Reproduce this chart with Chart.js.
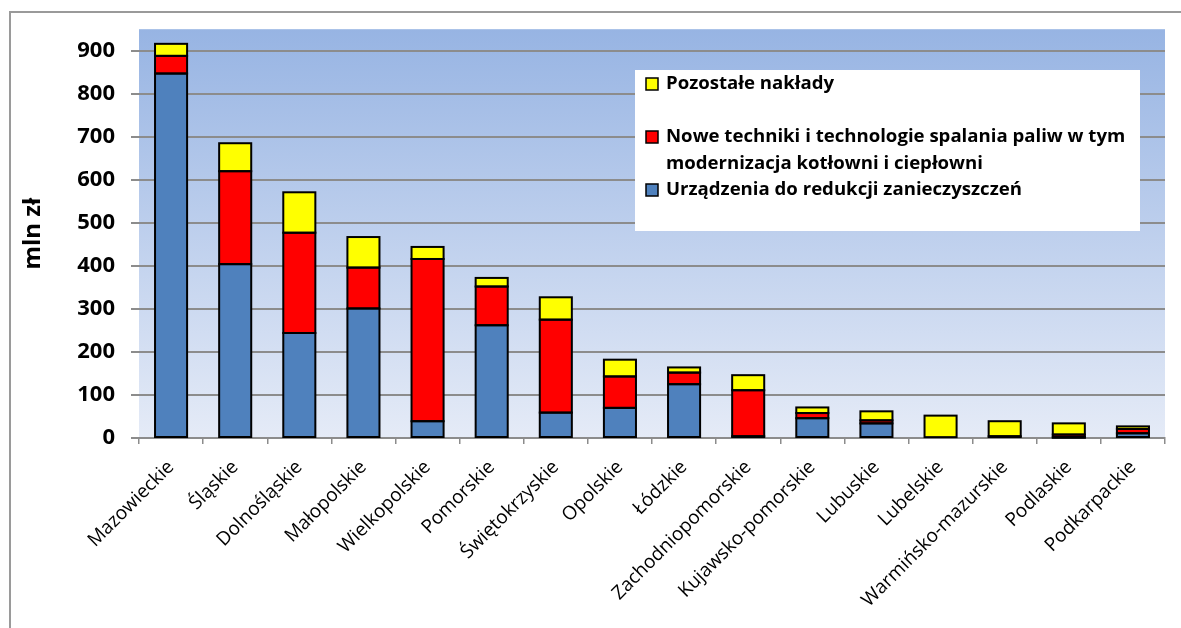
<!DOCTYPE html>
<html>
<head>
<meta charset="utf-8">
<script src="https://cdn.jsdelivr.net/npm/chart.js@4.4.1/dist/chart.umd.min.js"></script>
<style>
  html, body { margin: 0; padding: 0; background: #fff; }
  #wrap { position: relative; width: 1181px; height: 628px; }
</style>
</head>
<body>
<div id="wrap"><canvas id="chart" width="1181" height="628"></canvas></div>
<script>
const FONT = "'Open Sans', Calibri, sans-serif";

const regions = ["Mazowieckie", "Śląskie", "Dolnośląskie", "Małopolskie", "Wielkopolskie", "Pomorskie", "Świętokrzyskie", "Opolskie", "Łódzkie", "Zachodniopomorskie", "Kujawsko-pomorskie", "Lubuskie", "Lubelskie", "Warmińsko-mazurskie", "Podlaskie", "Podkarpackie"];
const urzadzenia = [847, 404, 244, 301, 39, 262, 59, 70, 125, 4, 46, 34, 2, 4, 1, 11];
const noweTechniki = [41, 216, 233, 95, 377, 90, 216, 73, 27, 107, 12, 7, 0, 0, 7, 10];
const pozostale = [28, 65, 94, 71, 28, 20, 52, 39, 12, 35, 13, 21, 50, 35, 26, 6];
const yTicks = [0, 100, 200, 300, 400, 500, 600, 700, 800, 900];
const yTitle = "mln zł";

const C = { blue: "#4f81bd", red: "#ff0000", yellow: "#ffff00", grid: "#8c8c8c", frame: "#9a9a9a" };

// plot background gradient + outer frame
const bgPlugin = {
  id: "bg",
  beforeDraw(chart) {
    const { ctx, chartArea: a } = chart;
    ctx.save();
    ctx.strokeStyle = C.frame; ctx.lineWidth = 2;
    ctx.beginPath(); ctx.moveTo(10, 700); ctx.lineTo(10, 12); ctx.lineTo(1200, 12); ctx.stroke();
    const g = ctx.createLinearGradient(0, a.top, 0, a.bottom);
    g.addColorStop(0, "#97b4e3"); g.addColorStop(1, "#e5ebf7");
    ctx.fillStyle = g;
    ctx.fillRect(a.left, a.top, a.right - a.left, a.bottom - a.top);
    ctx.restore();
  }
};

// Excel draws segment outlines centred on the edges, so shared edges stay thin
const barOutline = {
  id: "barOutline",
  afterDatasetsDraw(chart) {
    const { ctx } = chart;
    ctx.save();
    ctx.strokeStyle = "#000"; ctx.lineWidth = 2;
    chart.data.datasets.forEach((d, i) => {
      chart.getDatasetMeta(i).data.forEach(b => {
        const p = b.getProps(["x", "y", "base", "width"], true);
        const h = Math.abs(p.base - p.y);
        if (h < 0.5) return;
        ctx.strokeRect(p.x - p.width / 2, Math.min(p.y, p.base), p.width, h);
      });
    });
    ctx.restore();
  }
};

// Excel-like legend box, reversed order
const legendBox = {
  id: "legendBox",
  afterDatasetsDraw(chart, args, o) {
    const { ctx } = chart;
    ctx.save();
    ctx.fillStyle = "#fff";
    ctx.fillRect(o.x, o.y, o.w, o.h);
    ctx.font = `bold ${o.size}px ${FONT}`;
    ctx.textBaseline = "middle";
    const ds = chart.data.datasets.slice().reverse();
    ds.forEach((d, i) => {
      const y0 = o.rows[i];
      ctx.fillStyle = d.backgroundColor; ctx.strokeStyle = "#000"; ctx.lineWidth = 1.5;
      ctx.fillRect(o.x + 11, y0 - 6, 12, 12); ctx.strokeRect(o.x + 11, y0 - 6, 12, 12);
      const words = d.label.split(" "); const lines = []; let cur = "";
      words.forEach(w => { const t = cur ? cur + " " + w : w; if (ctx.measureText(t).width > o.wrap && cur) { lines.push(cur); cur = w } else cur = t });
      lines.push(cur);
      ctx.fillStyle = "#000";
      lines.forEach((l, j) => ctx.fillText(l, o.x + 31, y0 + j * o.lh));
    });
    ctx.restore();
  }
};

new Chart(document.getElementById("chart"), {
  type: "bar",
  data: {
    labels: regions,
    datasets: [
      { label: "Urządzenia do redukcji zanieczyszczeń", data: urzadzenia, backgroundColor: C.blue },
      { label: "Nowe techniki i technologie spalania paliw w tym modernizacja kotłowni i ciepłowni", data: noweTechniki, backgroundColor: C.red },
      { label: "Pozostałe nakłady", data: pozostale, backgroundColor: C.yellow }
    ].map(d => ({ ...d, borderWidth: 0, barPercentage: 0.5, categoryPercentage: 1, inflateAmount: 0 }))
  },
  options: {
    responsive: false, animation: false,
    layout: { padding: { top: 27, right: 16, left: 0, bottom: 0 } },
    plugins: {
      legend: { display: false }, tooltip: { enabled: false },
      legendBox: { x: 635, y: 70, w: 505, h: 161, size: 18.6, wrap: 480, lh: 27, rows: [84, 137, 190] }
    },
    scales: {
      x: {
        stacked: true,
        grid: { drawOnChartArea: false, offset: true, color: C.grid, lineWidth: 1.5, tickLength: 6 },
        border: { color: C.grid, width: 2 },
        ticks: { color: "#000", font: { family: FONT, size: 19 }, maxRotation: 45, minRotation: 45, autoSkip: false, padding: 12 },
        afterFit(s) { s.height = 190 }
      },
      y: {
        stacked: true, min: 0, max: 950,
        afterBuildTicks(s) { s.ticks = yTicks.map(v => ({ value: v })) },
        grid: { color: C.grid, lineWidth: 2, tickLength: 8 },
        border: { display: false },
        ticks: { color: "#000", font: { family: FONT, size: 22, weight: "bold" }, padding: 16 },
        title: { display: true, text: yTitle, color: "#000", font: { family: FONT, size: 24, weight: "bold" }, padding: { top: 19, bottom: 0 } },
        afterFit(s) { s.width = 139 }
      }
    }
  },
  plugins: [bgPlugin, barOutline, legendBox]
});
</script>
</body>
</html>
